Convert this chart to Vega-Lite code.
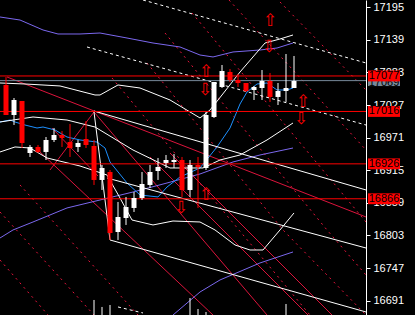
{
  "$schema": "https://vega.github.io/schema/vega-lite/v6.json",
  "width": 366,
  "height": 315,
  "autosize": {"type": "none"},
  "padding": {"left": 0, "top": 0, "right": 49, "bottom": 0},
  "background": "#000000",
  "config": {
    "view": {"stroke": null},
    "scale": {"continuousPadding": 0},
    "axis": {"grid": false, "domainColor": "#ffffff", "domainWidth": 1, "tickColor": "#ffffff", "tickWidth": 1, "tickSize": 4, "labelColor": "#ffffff", "labelFont": "Liberation Sans", "labelFontSize": 11, "labelPadding": 3, "labelBound": false, "labelFlush": false, "labelOverlap": false}
  },
  "datasets": {
    "candles": [
      {"t":1,"o":17061.5,"h":17075.2,"l":17009.9,"c":17009.9},
      {"t":2,"o":17009.9,"h":17039.1,"l":16992.8,"c":17035.7},
      {"t":3,"o":17034.0,"h":17034.0,"l":16953.2,"c":16961.8},
      {"t":4,"o":16944.6,"h":16958.4,"l":16937.8,"c":16955.0},
      {"t":5,"o":16955.0,"h":16958.4,"l":16944.6,"c":16946.4},
      {"t":6,"o":16946.4,"h":16972.1,"l":16932.6,"c":16967.0},
      {"t":7,"o":16967.0,"h":16987.6,"l":16963.5,"c":16975.6},
      {"t":8,"o":16975.6,"h":16982.4,"l":16955.0,"c":16970.4},
      {"t":9,"o":16963.5,"h":16994.5,"l":16937.8,"c":16953.2},
      {"t":10,"o":16955.0,"h":16967.0,"l":16946.4,"c":16961.8},
      {"t":11,"o":16968.7,"h":16999.6,"l":16953.2,"c":16958.4},
      {"t":12,"o":16956.7,"h":16967.0,"l":16889.7,"c":16898.3},
      {"t":13,"o":16898.3,"h":16924.0,"l":16881.1,"c":16918.9},
      {"t":14,"o":16912.0,"h":16915.4,"l":16795.2,"c":16807.2},
      {"t":15,"o":16808.9,"h":16860.5,"l":16795.2,"c":16834.7},
      {"t":16,"o":16833.0,"h":16869.1,"l":16821.0,"c":16851.9},
      {"t":17,"o":16850.2,"h":16877.6,"l":16843.3,"c":16867.3},
      {"t":18,"o":16867.3,"h":16912.0,"l":16863.9,"c":16891.4},
      {"t":19,"o":16889.7,"h":16924.0,"l":16884.5,"c":16912.0},
      {"t":20,"o":16913.7,"h":16936.1,"l":16898.3,"c":16920.6},
      {"t":21,"o":16927.5,"h":16941.2,"l":16918.9,"c":16932.6},
      {"t":22,"o":16929.2,"h":16942.9,"l":16918.9,"c":16932.6},
      {"t":23,"o":16932.6,"h":16937.8,"l":16869.1,"c":16881.1},
      {"t":24,"o":16881.1,"h":16932.6,"l":16869.1,"c":16924.0},
      {"t":25,"o":16924.0,"h":16937.8,"l":16850.2,"c":16920.6},
      {"t":26,"o":16918.9,"h":17015.1,"l":16915.4,"c":17009.9},
      {"t":27,"o":17006.5,"h":17066.6,"l":17004.8,"c":17066.6},
      {"t":28,"o":17058.0,"h":17095.8,"l":17056.3,"c":17085.5},
      {"t":29,"o":17083.8,"h":17089.0,"l":17066.6,"c":17070.1},
      {"t":30,"o":17070.1,"h":17080.4,"l":17058.0,"c":17064.9},
      {"t":31,"o":17064.9,"h":17064.9,"l":17049.4,"c":17051.2},
      {"t":32,"o":17052.9,"h":17059.8,"l":17035.7,"c":17058.0},
      {"t":33,"o":17056.3,"h":17087.2,"l":17035.7,"c":17068.3},
      {"t":34,"o":17068.3,"h":17082.1,"l":17032.3,"c":17040.9},
      {"t":35,"o":17040.9,"h":17064.9,"l":17027.1,"c":17051.2},
      {"t":36,"o":17051.2,"h":17114.7,"l":17032.3,"c":17056.3},
      {"t":37,"o":17056.3,"h":17111.3,"l":17056.3,"c":17068.3}
    ],
    "dotted": [
      {"g":"d1","t":35.25,"p":17204.1},{"g":"d1","t":46,"p":17052.9},
      {"g":"d2","t":28.875,"p":17207.5},{"g":"d2","t":46,"p":16949.8},
      {"g":"d3","t":24.25,"p":17185.2},{"g":"d3","t":46,"p":16826.1},
      {"g":"d4","t":20.875,"p":17150.8},{"g":"d4","t":41.125,"p":16812.4},{"g":"d4","t":46,"p":16735.0},
      {"g":"d5","t":18.625,"p":17099.3},{"g":"d5","t":35.625,"p":16812.4},{"g":"d5","t":46,"p":16666.3},
      {"g":"d6","t":14.25,"p":17073.5},{"g":"d6","t":39,"p":16666.3},
      {"g":"d7","t":2.75,"p":16889.7},{"g":"d7","t":17.5,"p":16666.3},
      {"g":"d8","t":0.25,"p":16843.3},{"g":"d8","t":12,"p":16666.3},
      {"g":"d9","t":0.25,"p":16760.8},{"g":"d9","t":6.25,"p":16666.3}
    ],
    "redsolid": [
      {"g":"r1","t":1.125,"p":17075.2},{"g":"r1","t":46,"p":16834.7},
      {"g":"s1","t":12,"p":17015.1},{"g":"s1","t":33.625,"p":16666.3},
      {"g":"s2","t":5.25,"p":16946.4},{"g":"s2","t":26.875,"p":16666.3},
      {"g":"s3","t":19,"p":16937.8},{"g":"s3","t":38.75,"p":16666.3},
      {"g":"s4","t":21.5,"p":16944.6},{"g":"s4","t":41.75,"p":16666.3},
      {"g":"f1","t":6.5,"p":16915.4},{"g":"f1","t":12,"p":17015.1},
      {"g":"f2","t":6.75,"p":16987.6},{"g":"f2","t":12.5,"p":16905.1}
    ],
    "purple": [
      {"g":"p1","t":0.25,"p":17178.3},{"g":"p1","t":2.75,"p":17173.1},{"g":"p1","t":5.625,"p":17156.0},{"g":"p1","t":7.5,"p":17149.1},{"g":"p1","t":10.25,"p":17149.1},{"g":"p1","t":12.75,"p":17150.8},{"g":"p1","t":16.125,"p":17142.2},{"g":"p1","t":19.375,"p":17133.6},{"g":"p1","t":22.75,"p":17126.8},{"g":"p1","t":25.25,"p":17113.0},{"g":"p1","t":26.875,"p":17109.6},{"g":"p1","t":29.375,"p":17118.2},{"g":"p1","t":32.75,"p":17121.6},{"g":"p1","t":34.875,"p":17125.0},{"g":"p1","t":36.875,"p":17133.6},
      {"g":"p2","t":0.25,"p":16798.6},{"g":"p2","t":1.875,"p":16812.4},{"g":"p2","t":4.375,"p":16826.1},{"g":"p2","t":8.625,"p":16850.2},{"g":"p2","t":12.75,"p":16863.9},{"g":"p2","t":16.875,"p":16877.6},{"g":"p2","t":21.125,"p":16893.1},{"g":"p2","t":25.25,"p":16908.6},{"g":"p2","t":29.375,"p":16929.2},{"g":"p2","t":32.75,"p":16941.2},{"g":"p2","t":36.875,"p":16953.2},
      {"g":"p3","t":21.875,"p":16666.3},{"g":"p3","t":25.25,"p":16705.8},{"g":"p3","t":27.75,"p":16726.5},{"g":"p3","t":32.75,"p":16755.7},{"g":"p3","t":36.875,"p":16774.6}
    ],
    "blue": [
      {"t":0.25,"p":16997.9},{"t":1.5,"p":17001.3},{"t":2.125,"p":16997.9},{"t":3.375,"p":16992.7},{"t":4.875,"p":16987.6},{"t":5.625,"p":16989.3},{"t":7.125,"p":16984.2},{"t":8.625,"p":16972.1},{"t":10.25,"p":16967.0},{"t":12.375,"p":16963.5},{"t":13.375,"p":16953.2},{"t":14,"p":16929.2},{"t":16.125,"p":16893.1},{"t":17.75,"p":16872.5},{"t":20,"p":16869.1},{"t":21.125,"p":16886.2},{"t":22.75,"p":16903.4},{"t":25.25,"p":16918.9},{"t":27.375,"p":16955.0},{"t":29,"p":16987.6},{"t":30.25,"p":17028.8},{"t":31.125,"p":17049.4},{"t":32.375,"p":17063.2},{"t":33.625,"p":17064.9},{"t":34.875,"p":17052.9},{"t":36.125,"p":17052.9},{"t":36.875,"p":17056.3}
    ],
    "white": [
      {"g":"u","t":0.25,"p":17064.9},{"g":"u","t":3.375,"p":17063.2},{"g":"u","t":7.75,"p":17059.8},{"g":"u","t":12.125,"p":17044.3},{"g":"u","t":12.75,"p":17044.3},{"g":"u","t":15,"p":17061.5},{"g":"u","t":17.75,"p":17056.3},{"g":"u","t":21.5,"p":17035.7},{"g":"u","t":25.25,"p":17004.8},{"g":"u","t":26.5,"p":17018.5},{"g":"u","t":28,"p":17044.3},{"g":"u","t":30.25,"p":17083.8},{"g":"u","t":33.375,"p":17133.6},{"g":"u","t":35.25,"p":17140.5},{"g":"u","t":36.875,"p":17147.4},
      {"g":"m","t":0.25,"p":16997.9},{"g":"m","t":4.375,"p":17006.5},{"g":"m","t":8.625,"p":17001.3},{"g":"m","t":12.125,"p":16989.3},{"g":"m","t":16.875,"p":16949.8},{"g":"m","t":21.5,"p":16918.9},{"g":"m","t":25.625,"p":16918.9},{"g":"m","t":27.75,"p":16932.6},{"g":"m","t":30.25,"p":16941.2},{"g":"m","t":33.625,"p":16967.0},{"g":"m","t":36.875,"p":16996.2},
      {"g":"lo","t":0.25,"p":16946.4},{"g":"lo","t":2.125,"p":16955.0},{"g":"lo","t":4,"p":16953.2},{"g":"lo","t":6.125,"p":16936.1},{"g":"lo","t":10.25,"p":16922.3},{"g":"lo","t":13.625,"p":16906.8},{"g":"lo","t":15.25,"p":16867.3},{"g":"lo","t":16.75,"p":16829.5},{"g":"lo","t":19.375,"p":16821.0},{"g":"lo","t":21.875,"p":16827.8},{"g":"lo","t":25.25,"p":16826.1},{"g":"lo","t":27.125,"p":16812.4},{"g":"lo","t":29.625,"p":16786.6},{"g":"lo","t":31.5,"p":16778.0},{"g":"lo","t":33.125,"p":16778.0},{"g":"lo","t":35.25,"p":16812.4},{"g":"lo","t":37,"p":16841.6},
      {"g":"zz","t":12,"p":17015.1},{"g":"zz","t":14,"p":16795.2},
      {"g":"w1","t":12,"p":17016.8},{"g":"w1","t":46,"p":16881.1},
      {"g":"w2","t":14,"p":16795.2},{"g":"w2","t":46,"p":16671.5},
      {"g":"w3","t":13.625,"p":16901.7},{"g":"w3","t":46,"p":16781.4}
    ],
    "whitedash": [
      {"g":"a","t":18.125,"p":17207.5},{"g":"a","t":46,"p":17099.3},
      {"g":"b","t":11.125,"p":17126.8},{"g":"b","t":46,"p":16992.7},
      {"g":"c","t":15,"p":16680.1},{"g":"c","t":18.125,"p":16669.8}
    ],
    "bars": [
      {"t":12,"p":16692.1},{"t":13,"p":16680.1},{"t":14,"p":16683.5},{"t":24,"p":16695.5},{"t":25,"p":16676.6},{"t":26,"p":16671.5},{"t":36,"p":16685.2}
    ],
    "levels": [
      {"p":17077,"lab":"17077"},{"p":17016,"lab":"17016"},{"p":16926,"lab":"16926"},{"p":16866,"lab":"16866"}
    ],
    "bid": [{"p":17069,"lab":"17069"}],
    "arrows": [
      {"t":34,"p":17171.4,"d":"up"},
      {"t":33.875,"p":17126.8,"d":"down"},
      {"t":26,"p":17083.8,"d":"up"},
      {"t":25.875,"p":17052.9,"d":"down"},
      {"t":38.125,"p":17032.3,"d":"up"},
      {"t":37.875,"p":17003.1,"d":"down"},
      {"t":22.875,"p":16850.2,"d":"down"},
      {"t":26,"p":16872.5,"d":"up"}
    ]
  },
  "layer": [
    {
      "data": {"name": "dotted"},
      "mark": {"type": "line", "color": "#e8143c", "strokeWidth": 1, "strokeDash": [2, 4], "clip": true},
      "encoding": {
        "x": {"field": "t", "type": "quantitative", "scale": {"domain": [0.25, 46], "nice": false, "zero": false, "padding": 0}, "axis": null},
        "y": {"field": "p", "type": "quantitative", "scale": {"domain": [16666.3, 17207.5], "nice": false, "zero": false, "padding": 0},
          "axis": {"orient": "right", "values": [16691, 16747, 16803, 16859, 16915, 16971, 17027, 17083, 17139, 17195], "format": "d", "title": null}},
        "detail": {"field": "g"}
      }
    },
    {
      "data": {"name": "redsolid"},
      "mark": {"type": "line", "color": "#dc143c", "strokeWidth": 1, "clip": true},
      "encoding": {
        "x": {"field": "t", "type": "quantitative", "axis": null},
        "y": {"field": "p", "type": "quantitative", "axis": {"orient": "right", "values": [16691, 16747, 16803, 16859, 16915, 16971, 17027, 17083, 17139, 17195], "format": "d", "title": null}},
        "detail": {"field": "g"}
      }
    },
    {
      "data": {"name": "purple"},
      "mark": {"type": "line", "color": "#7b68ee", "strokeWidth": 1, "clip": true},
      "encoding": {
        "x": {"field": "t", "type": "quantitative", "axis": null},
        "y": {"field": "p", "type": "quantitative", "axis": {"orient": "right", "values": [16691, 16747, 16803, 16859, 16915, 16971, 17027, 17083, 17139, 17195], "format": "d", "title": null}},
        "detail": {"field": "g"}
      }
    },
    {
      "data": {"name": "blue"},
      "mark": {"type": "line", "color": "#1e90ff", "strokeWidth": 1, "clip": true},
      "encoding": {
        "x": {"field": "t", "type": "quantitative", "axis": null},
        "y": {"field": "p", "type": "quantitative", "axis": {"orient": "right", "values": [16691, 16747, 16803, 16859, 16915, 16971, 17027, 17083, 17139, 17195], "format": "d", "title": null}}
      }
    },
    {
      "data": {"name": "white"},
      "mark": {"type": "line", "color": "#ffffff", "strokeWidth": 1, "clip": true},
      "encoding": {
        "x": {"field": "t", "type": "quantitative", "axis": null},
        "y": {"field": "p", "type": "quantitative", "axis": {"orient": "right", "values": [16691, 16747, 16803, 16859, 16915, 16971, 17027, 17083, 17139, 17195], "format": "d", "title": null}},
        "detail": {"field": "g"}
      }
    },
    {
      "data": {"name": "whitedash"},
      "mark": {"type": "line", "color": "#ffffff", "strokeWidth": 1, "strokeDash": [3, 3], "clip": true},
      "encoding": {
        "x": {"field": "t", "type": "quantitative", "axis": null},
        "y": {"field": "p", "type": "quantitative", "axis": {"orient": "right", "values": [16691, 16747, 16803, 16859, 16915, 16971, 17027, 17083, 17139, 17195], "format": "d", "title": null}},
        "detail": {"field": "g"}
      }
    },
    {
      "data": {"name": "bars"},
      "mark": {"type": "rule", "color": "#ffffff", "strokeWidth": 1},
      "encoding": {
        "x": {"field": "t", "type": "quantitative", "axis": null},
        "y": {"field": "p", "type": "quantitative", "axis": {"orient": "right", "values": [16691, 16747, 16803, 16859, 16915, 16971, 17027, 17083, 17139, 17195], "format": "d", "title": null}},
        "y2": {"datum": 16666.3}
      }
    },
    {
      "data": {"name": "levels"},
      "mark": {"type": "rule", "color": "#ff0000", "strokeWidth": 1},
      "encoding": {
        "y": {"field": "p", "type": "quantitative", "axis": {"orient": "right", "values": [16691, 16747, 16803, 16859, 16915, 16971, 17027, 17083, 17139, 17195], "format": "d", "title": null}}
      }
    },
    {
      "data": {"name": "bid"},
      "mark": {"type": "rule", "color": "#778899", "strokeWidth": 1},
      "encoding": {
        "y": {"field": "p", "type": "quantitative", "axis": {"orient": "right", "values": [16691, 16747, 16803, 16859, 16915, 16971, 17027, 17083, 17139, 17195], "format": "d", "title": null}}
      }
    },
    {
      "data": {"name": "candles"},
      "mark": {"type": "rule", "strokeWidth": 1},
      "encoding": {
        "x": {"field": "t", "type": "quantitative", "axis": null},
        "y": {"field": "h", "type": "quantitative", "axis": {"orient": "right", "values": [16691, 16747, 16803, 16859, 16915, 16971, 17027, 17083, 17139, 17195], "format": "d", "title": null}},
        "y2": {"field": "l"},
        "color": {"condition": {"test": "datum.c < datum.o", "value": "#ff0000"}, "value": "#ffffff"}
      }
    },
    {
      "data": {"name": "candles"},
      "mark": {"type": "bar", "size": 5},
      "encoding": {
        "x": {"field": "t", "type": "quantitative", "axis": null},
        "y": {"field": "o", "type": "quantitative", "axis": {"orient": "right", "values": [16691, 16747, 16803, 16859, 16915, 16971, 17027, 17083, 17139, 17195], "format": "d", "title": null}},
        "y2": {"field": "c"},
        "color": {"condition": {"test": "datum.c < datum.o", "value": "#ff0000"}, "value": "#ffffff"}
      }
    },
    {
      "data": {"name": "arrows"},
      "transform": [{"filter": "datum.d == 'up'"}],
      "mark": {"type": "text", "text": "⇧", "font": "DejaVu Sans", "fontSize": 17, "color": "#ff0000", "align": "center", "baseline": "middle"},
      "encoding": {
        "x": {"field": "t", "type": "quantitative", "axis": null},
        "y": {"field": "p", "type": "quantitative", "axis": {"orient": "right", "values": [16691, 16747, 16803, 16859, 16915, 16971, 17027, 17083, 17139, 17195], "format": "d", "title": null}}
      }
    },
    {
      "data": {"name": "arrows"},
      "transform": [{"filter": "datum.d == 'down'"}],
      "mark": {"type": "text", "text": "⇩", "font": "DejaVu Sans", "fontSize": 17, "color": "#ff0000", "align": "center", "baseline": "middle"},
      "encoding": {
        "x": {"field": "t", "type": "quantitative", "axis": null},
        "y": {"field": "p", "type": "quantitative", "axis": {"orient": "right", "values": [16691, 16747, 16803, 16859, 16915, 16971, 17027, 17083, 17139, 17195], "format": "d", "title": null}}
      }
    },
    {
      "data": {"name": "bid"},
      "mark": {"type": "point", "shape": "M-1,-0.34H1V0.34H-1Z", "size": 1024, "filled": true, "color": "#778899", "opacity": 1, "strokeWidth": 0},
      "encoding": {
        "x": {"datum": 48.25, "type": "quantitative", "axis": null},
        "y": {"field": "p", "type": "quantitative", "axis": {"orient": "right", "values": [16691, 16747, 16803, 16859, 16915, 16971, 17027, 17083, 17139, 17195], "format": "d", "title": null}}
      }
    },
    {
      "data": {"name": "bid"},
      "mark": {"type": "text", "font": "Liberation Sans", "fontSize": 11, "color": "#000000", "align": "center", "baseline": "middle", "dy": 2},
      "encoding": {
        "x": {"datum": 48.25, "type": "quantitative", "axis": null},
        "y": {"field": "p", "type": "quantitative", "axis": {"orient": "right", "values": [16691, 16747, 16803, 16859, 16915, 16971, 17027, 17083, 17139, 17195], "format": "d", "title": null}},
        "text": {"field": "lab"}
      }
    },
    {
      "data": {"name": "levels"},
      "mark": {"type": "point", "shape": "M-1,-0.34H1V0.34H-1Z", "size": 1024, "filled": true, "color": "#ff0000", "opacity": 1, "strokeWidth": 0},
      "encoding": {
        "x": {"datum": 48.25, "type": "quantitative", "axis": null},
        "y": {"field": "p", "type": "quantitative", "axis": {"orient": "right", "values": [16691, 16747, 16803, 16859, 16915, 16971, 17027, 17083, 17139, 17195], "format": "d", "title": null}}
      }
    },
    {
      "data": {"name": "levels"},
      "mark": {"type": "text", "font": "Liberation Sans", "fontSize": 11, "color": "#000000", "align": "center", "baseline": "middle"},
      "encoding": {
        "x": {"datum": 48.25, "type": "quantitative", "axis": null},
        "y": {"field": "p", "type": "quantitative", "axis": {"orient": "right", "values": [16691, 16747, 16803, 16859, 16915, 16971, 17027, 17083, 17139, 17195], "format": "d", "title": null}},
        "text": {"field": "lab"}
      }
    }
  ]
}
